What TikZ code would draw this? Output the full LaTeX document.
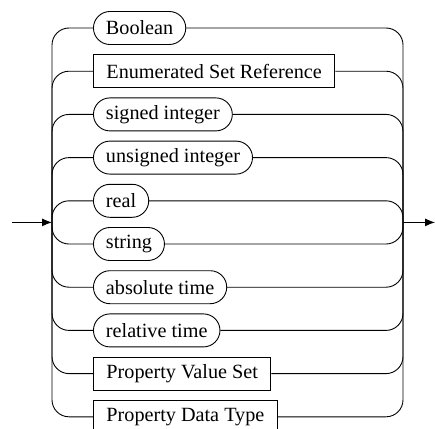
\documentclass[tikz,border=0pt]{standalone}
\usepackage{fontspec}
\setmainfont{Liberation Serif}
\usetikzlibrary{arrows.meta}
\begin{document}
\begin{tikzpicture}[x=1pt,y=-1pt,
  font=\fontsize{20.2}{22}\selectfont,
  line width=0.9pt,
  term/.style={draw, rounded corners=16.5pt, minimum height=33pt, inner xsep=12.5pt, anchor=west},
  nonterm/.style={draw, rectangle, minimum height=33pt, inner xsep=13pt, anchor=west},
  conn/.style={rounded corners=17pt},
  tip/.style={-{Latex[length=10pt,width=8pt]}}]
\useasboundingbox (0,0) rectangle (435,428);
\clip (0,0) rectangle (435,428);
\coordinate (S) at (12,222.4);
\coordinate (J) at (52,222.4);
\coordinate (K) at (403,222.4);
\coordinate (E) at (435,222.4);
\node[term]    (n1)  at (93,28)    {Boolean};
\node[nonterm] (n2)  at (93,71.2)  {Enumerated Set Reference};
\node[term]    (n3)  at (93,114.4) {signed integer};
\node[term]    (n4)  at (93,157.6) {unsigned integer};
\node[term]    (n5)  at (93,200.8) {real};
\node[term]    (n6)  at (93,244)   {string};
\node[term]    (n7)  at (93,287.2) {absolute time};
\node[term]    (n8)  at (93,330.4) {relative time};
\node[nonterm] (n9)  at (93,373.6) {Property Value Set};
\node[nonterm] (n10) at (93,416.8) {Property Data Type};
\foreach \i in {1,...,10}{
  \draw[conn] (J) |- (n\i.west);
  \draw[conn] (n\i.east) -| (K);
}
\draw[tip] (S) -- (J);
\draw[tip] (K) -- (E);
\end{tikzpicture}
\end{document}
